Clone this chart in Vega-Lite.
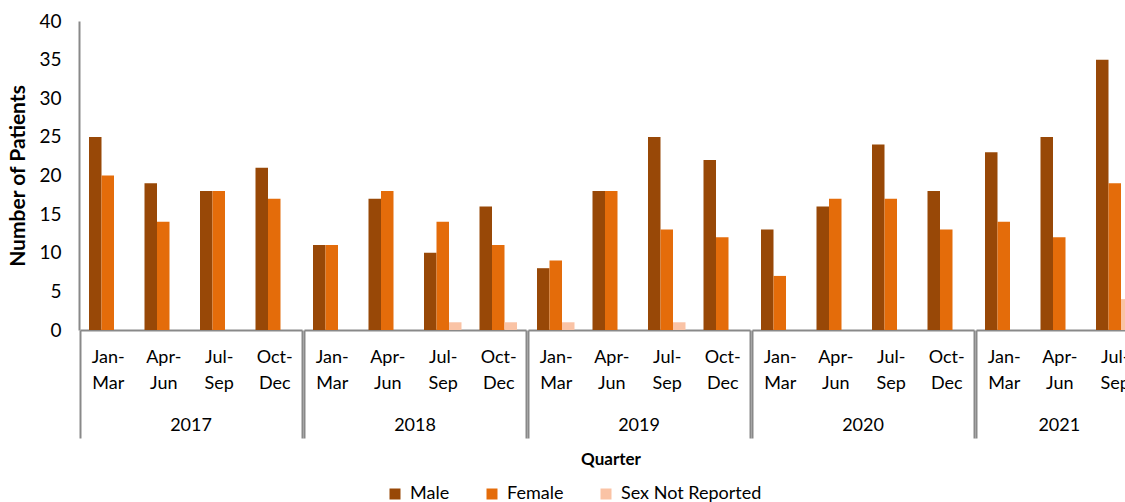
{
  "$schema": "https://vega.github.io/schema/vega-lite/v6.json",
  "autosize": {"type": "pad"},
  "padding": {"left": 7, "top": 12, "right": 0, "bottom": 0},
  "data": {"values": [
    {"year": "2017", "quarter": "Jan-Mar", "sex": "Male", "count": 25},
    {"year": "2017", "quarter": "Jan-Mar", "sex": "Female", "count": 20},
    {"year": "2017", "quarter": "Apr-Jun", "sex": "Male", "count": 19},
    {"year": "2017", "quarter": "Apr-Jun", "sex": "Female", "count": 14},
    {"year": "2017", "quarter": "Jul-Sep", "sex": "Male", "count": 18},
    {"year": "2017", "quarter": "Jul-Sep", "sex": "Female", "count": 18},
    {"year": "2017", "quarter": "Oct-Dec", "sex": "Male", "count": 21},
    {"year": "2017", "quarter": "Oct-Dec", "sex": "Female", "count": 17},
    {"year": "2018", "quarter": "Jan-Mar", "sex": "Male", "count": 11},
    {"year": "2018", "quarter": "Jan-Mar", "sex": "Female", "count": 11},
    {"year": "2018", "quarter": "Apr-Jun", "sex": "Male", "count": 17},
    {"year": "2018", "quarter": "Apr-Jun", "sex": "Female", "count": 18},
    {"year": "2018", "quarter": "Jul-Sep", "sex": "Male", "count": 10},
    {"year": "2018", "quarter": "Jul-Sep", "sex": "Female", "count": 14},
    {"year": "2018", "quarter": "Jul-Sep", "sex": "Sex Not Reported", "count": 1},
    {"year": "2018", "quarter": "Oct-Dec", "sex": "Male", "count": 16},
    {"year": "2018", "quarter": "Oct-Dec", "sex": "Female", "count": 11},
    {"year": "2018", "quarter": "Oct-Dec", "sex": "Sex Not Reported", "count": 1},
    {"year": "2019", "quarter": "Jan-Mar", "sex": "Male", "count": 8},
    {"year": "2019", "quarter": "Jan-Mar", "sex": "Female", "count": 9},
    {"year": "2019", "quarter": "Jan-Mar", "sex": "Sex Not Reported", "count": 1},
    {"year": "2019", "quarter": "Apr-Jun", "sex": "Male", "count": 18},
    {"year": "2019", "quarter": "Apr-Jun", "sex": "Female", "count": 18},
    {"year": "2019", "quarter": "Jul-Sep", "sex": "Male", "count": 25},
    {"year": "2019", "quarter": "Jul-Sep", "sex": "Female", "count": 13},
    {"year": "2019", "quarter": "Jul-Sep", "sex": "Sex Not Reported", "count": 1},
    {"year": "2019", "quarter": "Oct-Dec", "sex": "Male", "count": 22},
    {"year": "2019", "quarter": "Oct-Dec", "sex": "Female", "count": 12},
    {"year": "2020", "quarter": "Jan-Mar", "sex": "Male", "count": 13},
    {"year": "2020", "quarter": "Jan-Mar", "sex": "Female", "count": 7},
    {"year": "2020", "quarter": "Apr-Jun", "sex": "Male", "count": 16},
    {"year": "2020", "quarter": "Apr-Jun", "sex": "Female", "count": 17},
    {"year": "2020", "quarter": "Jul-Sep", "sex": "Male", "count": 24},
    {"year": "2020", "quarter": "Jul-Sep", "sex": "Female", "count": 17},
    {"year": "2020", "quarter": "Oct-Dec", "sex": "Male", "count": 18},
    {"year": "2020", "quarter": "Oct-Dec", "sex": "Female", "count": 13},
    {"year": "2021", "quarter": "Jan-Mar", "sex": "Male", "count": 23},
    {"year": "2021", "quarter": "Jan-Mar", "sex": "Female", "count": 14},
    {"year": "2021", "quarter": "Apr-Jun", "sex": "Male", "count": 25},
    {"year": "2021", "quarter": "Apr-Jun", "sex": "Female", "count": 12},
    {"year": "2021", "quarter": "Jul-Sep", "sex": "Male", "count": 35},
    {"year": "2021", "quarter": "Jul-Sep", "sex": "Female", "count": 19},
    {"year": "2021", "quarter": "Jul-Sep", "sex": "Sex Not Reported", "count": 4}
  ]},
  "facet": {
    "column": {
      "field": "year",
      "type": "ordinal",
      "title": "Quarter",
      "header": {
        "labelOrient": "bottom",
        "labelFont": "Lato",
        "labelFontSize": 18,
        "labelColor": "#000000",
        "labelPadding": -22,
        "titleOrient": "bottom",
        "titleFont": "Lato",
        "titleFontSize": 17,
        "titleFontWeight": "bold",
        "titleColor": "#000000",
        "titlePadding": 3
      }
    }
  },
  "spacing": 0,
  "resolve": {"scale": {"x": "independent"}},
  "spec": {
    "width": {"step": 12.5},
    "height": 309,
    "mark": {"type": "bar"},
    "encoding": {
      "x": {
        "field": "quarter",
        "type": "nominal",
        "sort": ["Jan-Mar", "Apr-Jun", "Jul-Sep", "Oct-Dec"],
        "scale": {"paddingInner": 0, "paddingOuter": 0},
        "axis": {
          "title": null,
          "labelAngle": 0,
          "labelFont": "Lato",
          "labelFontSize": 18,
          "labelColor": "#000000",
          "labelLineHeight": 26,
          "labelExpr": "datum.label ? [split(datum.label, '-')[0] + '-', split(datum.label, '-')[1]] : ''",
          "labelPadding": -90,
          "domainColor": "#898989",
          "domainWidth": 2,
          "tickBand": "extent",
          "tickSize": 108,
          "tickWidth": 2,
          "tickColor": {"condition": {"test": "!datum.value || datum.value === 'Oct-Dec'", "value": "#898989"}, "value": "transparent"}
        }
      },
      "xOffset": {
        "field": "sex",
        "type": "nominal",
        "sort": ["Male", "Female", "Sex Not Reported"],
        "scale": {"domain": ["Male", "Female", "Sex Not Reported"], "paddingInner": 0, "paddingOuter": 0.72}
      },
      "y": {
        "field": "count",
        "type": "quantitative",
        "scale": {"domain": [0, 40]},
        "axis": {
          "title": "Number of Patients",
          "titleFont": "Lato",
          "titleFontSize": 21,
          "titleFontWeight": "bold",
          "titleColor": "#000000",
          "titlePadding": 10,
          "values": [0, 5, 10, 15, 20, 25, 30, 35, 40],
          "labelFont": "Lato",
          "labelFontSize": 19,
          "labelColor": "#000000",
          "labelPadding": 18,
          "ticks": false,
          "grid": false,
          "domainColor": "#898989",
          "domainWidth": 2
        }
      },
      "color": {
        "field": "sex",
        "type": "nominal",
        "title": null,
        "scale": {"domain": ["Male", "Female", "Sex Not Reported"], "range": ["#984807", "#E46C0A", "#FAC3A5"]},
        "legend": {
          "orient": "none",
          "direction": "horizontal",
          "legendX": 306,
          "legendY": 464,
          "symbolType": "square",
          "symbolSize": 121,
          "symbolStrokeWidth": 0,
          "labelFont": "Lato",
          "labelFontSize": 18,
          "labelColor": "#000000",
          "labelOffset": 6,
          "columnPadding": 33
        }
      }
    }
  },
  "config": {
    "view": {"stroke": null},
    "background": "#ffffff"
  }
}
